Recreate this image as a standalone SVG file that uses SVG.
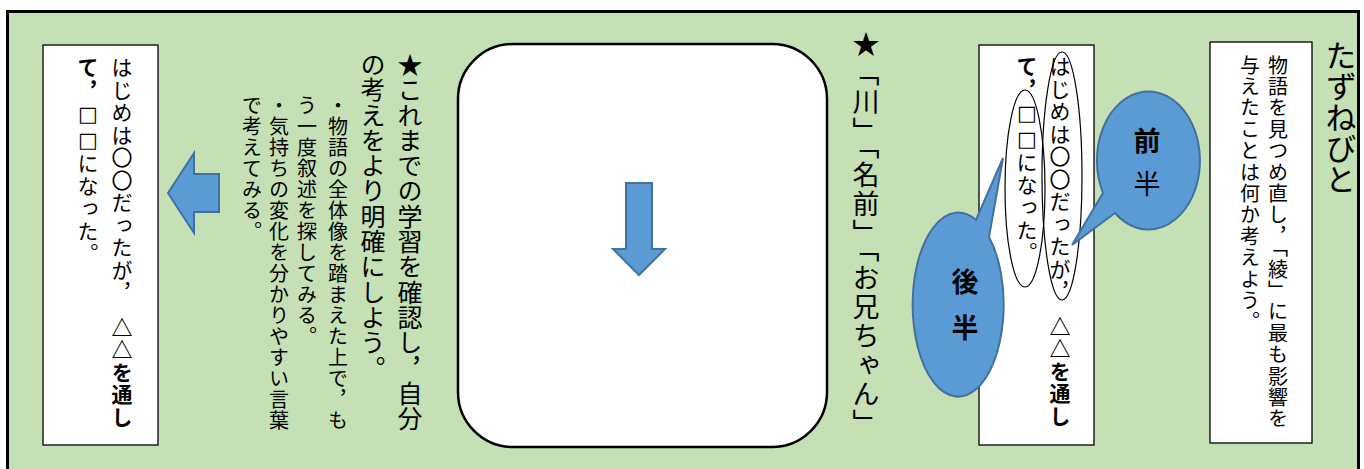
<svg xmlns="http://www.w3.org/2000/svg" width="1364" height="469" viewBox="0 0 1364 469">
<style>
.v{writing-mode:vertical-rl;font-family:"Noto Sans CJK JP","Noto Sans CJK SC",sans-serif;fill:#000}
.s{font-family:"DejaVu Sans","Noto Sans CJK JP",sans-serif}
.box{fill:#fff;stroke:#000;stroke-width:1.3}
.blue{fill:#5B9BD5;stroke:#41719C;stroke-width:2}
.ring{fill:none;stroke:#000;stroke-width:1.2}
.b{font-weight:bold}
</style>
<rect x="7.5" y="11.5" width="1351" height="470" fill="#C5E0B4" stroke="#000" stroke-width="3"/>
<g id="title">
<text class="v" x="1341" y="40" font-size="31">たずねびと</text>
</g>
<g id="question">
<rect class="box" x="1210" y="42" width="102" height="401"/>
<text class="v" x="1278" y="55" font-size="20" letter-spacing="1.4">物語を見つめ直し，「綾」に最も影響を</text>
<text class="v" x="1250" y="55" font-size="20" letter-spacing="1.4">与えたことは何か考えよう。</text>
</g>
<g id="sentence-right">
<rect class="box" x="979" y="45" width="115" height="400"/>
<text class="v" x="1060" y="56" font-size="21" letter-spacing="1.5">はじめは〇〇だったが，<tspan class="b">　△△を通し</tspan></text>
<text class="v" x="1027" y="56" font-size="21" letter-spacing="1.5"><tspan class="b">て，</tspan><tspan class="s">□□</tspan>になった。</text>
<ellipse class="ring" cx="1062" cy="176" rx="20" ry="124"/>
<ellipse class="ring" cx="1025" cy="188.5" rx="20" ry="98.5"/>
</g>
<g id="callout-first">
<path class="blue" d="M1103,193 L1072,245 L1115,213 A51.5,69 0 1 0 1103,193 Z"/>
<text class="v b" x="1147" y="127" font-size="27">前</text>
<text class="v" x="1147" y="170" font-size="27">半</text>
</g>
<g id="callout-second">
<path class="blue" d="M976,220 L1003,158 L989,237 A45.5,92 0 1 1 976,220 Z"/>
<text class="v b" x="965" y="268" font-size="27">後</text>
<text class="v b" x="965" y="314" font-size="27">半</text>
</g>
<g id="keywords">
<text class="v" x="866" y="30" font-size="27" letter-spacing="2">★「川」「名前」「お兄ちゃん」</text>
</g>
<g id="work-area">
<rect x="458" y="44" width="369" height="403" rx="55" ry="55" fill="#fff" stroke="#000" stroke-width="2.5"/>
</g>
<g id="instructions">
<text class="v" x="410" y="52" font-size="25" letter-spacing="0.3">★これまでの学習を確認し，自分</text>
<text class="v" x="373" y="52" font-size="25" letter-spacing="0.3">の考えをより明確にしよう。</text>
<text class="v" x="338" y="95" font-size="20" letter-spacing="1">・物語の全体像を踏まえた上で，も</text>
<text class="v" x="307" y="95" font-size="20" letter-spacing="1">う一度叙述を探してみる。</text>
<text class="v" x="279" y="95" font-size="20" letter-spacing="1">・気持ちの変化を分かりやすい言葉</text>
<text class="v" x="252" y="95" font-size="20" letter-spacing="1">で考えてみる。</text>
</g>
<g id="sentence-left">
<rect class="box" x="43" y="45" width="115" height="400"/>
<text class="v" x="122" y="57" font-size="21" letter-spacing="1.5">はじめは〇〇だったが，<tspan class="b">　△△を通し</tspan></text>
<text class="v" x="88" y="57" font-size="21" letter-spacing="1.5"><tspan class="b">て，</tspan><tspan class="s">□□</tspan>になった。</text>
</g>
<g id="connectors">
<path class="blue" d="M626,183 H652 V249 H665 L639,275 L613,249 H626 Z"/>
<path class="blue" d="M168,193 L194,153 V174 H219 V212 H194 V233 Z"/>
</g>
</svg>
